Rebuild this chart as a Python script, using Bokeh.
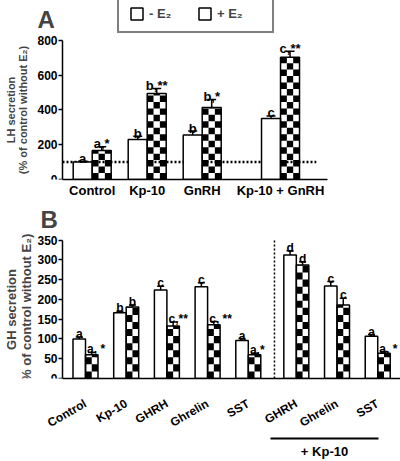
import math
from bokeh.plotting import figure
from bokeh.layouts import column
from bokeh.models import (FixedTicker, Label, Legend, LegendItem, Whisker, TeeHead,
                          ColumnDataSource, Range1d, LinearAxis)
from bokeh.core.properties import value
from bokeh.embed import file_html
from bokeh.resources import INLINE

FONT = "Liberation Sans"

# ---------------- data: panel A (LH) ----------------
a_groups = ["Control", "Kp-10", "GnRH", "Kp-10 + GnRH"]
a_minus = [100, 230, 255, 350]
a_minus_err = [5, 19, 23, 15]
a_plus = [166, 494, 414, 702]
a_plus_err = [22, 29, 46, 35]
a_minus_sig = ["a", "b", "b", "c"]
a_plus_sig = ["a,*", "b,**", "b,*", "c,**"]
a_yticks = [0, 200, 400, 600, 800]
a_ref_level = 100

# ---------------- data: panel B (GH) ----------------
b_groups = ["Control", "Kp-10", "GHRH", "Ghrelin", "SST", "GHRH", "Ghrelin", "SST"]
b_minus = [100, 166, 224, 232, 96, 312, 234, 107]
b_minus_err = [5, 4, 9, 10, 5, 11, 11, 4]
b_plus = [60, 181, 133, 136, 60, 287, 186, 64]
b_plus_err = [6, 5, 10, 8, 4, 8, 17, 4]
b_minus_sig = ["a", "b", "c", "c", "a", "d", "c", "a"]
b_plus_sig = ["a, *", "b", "c,**", "c, **", "a,*", "d", "c", "a, *"]
b_yticks = [0, 50, 100, 150, 200, 250, 300, 350]
b_kp_label = "+ Kp-10"
b_n_plain = 5

legend_labels = ["- E\u2082", "+ E\u2082"]

# ---------------- layout constants ----------------
W = 400
AXIS_PX = 62          # pixel position of the y axis inside each canvas


def checker_cells(lefts, values, bw, ncol, cell_h):
    L, R, B, T = [], [], [], []
    cw = bw / ncol
    for left, v in zip(lefts, values):
        nrow = int(math.ceil(v / cell_h))
        for r in range(nrow):
            for k in range(ncol):
                if (r + k) % 2 == 0:
                    L.append(left + k * cw)
                    R.append(left + (k + 1) * cw)
                    B.append(r * cell_h)
                    T.append(min((r + 1) * cell_h, v))
    return dict(left=L, right=R, bottom=B, top=T)


def style_axes(p, ylabel, ylabel_size, yticks, axis_x, x_end):
    for ax in (p.xaxis, p.yaxis):
        ax.axis_line_color = "black"
        ax.axis_line_width = 1.5
        ax.major_label_text_font = FONT
        ax.major_label_text_font_style = "bold"
        ax.major_label_text_font_size = "12px"
        ax.major_label_text_color = "black"
        ax.minor_tick_line_color = None
    p.yaxis.fixed_location = axis_x
    p.yaxis.ticker = FixedTicker(ticks=yticks)
    p.yaxis.bounds = (yticks[0], yticks[-1])
    p.yaxis.major_tick_out = 4
    p.yaxis.major_tick_in = 0
    p.yaxis.major_tick_line_width = 1.5
    p.yaxis.major_label_standoff = 1
    p.yaxis.axis_label = ylabel
    p.yaxis.axis_label_text_font = FONT
    p.yaxis.axis_label_text_font_style = "bold"
    p.yaxis.axis_label_text_font_size = ylabel_size
    p.yaxis.axis_label_text_line_height = 1.05
    p.xaxis.bounds = (axis_x, x_end)
    p.xaxis.major_tick_out = 0
    p.xaxis.major_tick_in = 0
    p.xgrid.grid_line_color = None
    p.ygrid.grid_line_color = None
    p.outline_line_color = None


def draw_bars(p, pos, minus, minus_err, plus, plus_err, bw, ncol, cell_px, ppu_y, cap):
    white_src = ColumnDataSource(dict(x=[c - bw / 2 for c in pos], top=minus))
    white_r = p.vbar(x="x", top="top", width=bw, bottom=0, source=white_src,
                     fill_color="white", line_color="black", line_width=1.5)
    cells = checker_cells(pos, plus, bw, ncol, cell_px / ppu_y)
    p.quad(source=ColumnDataSource(cells), left="left", right="right", bottom="bottom",
           top="top", fill_color="black", line_color=None)
    p.vbar(x=[c + bw / 2 for c in pos], top=plus, width=bw, bottom=0,
           fill_color=None, line_color="black", line_width=1.5)
    for xs, vals, errs in (([c - bw / 2 for c in pos], minus, minus_err),
                           ([c + bw / 2 for c in pos], plus, plus_err)):
        src = ColumnDataSource(dict(x=xs, lower=vals, upper=[v + e for v, e in zip(vals, errs)]))
        p.add_layout(Whisker(source=src, base="x", lower="lower", upper="upper",
                             upper_head=TeeHead(size=cap, line_width=1.5, line_color="black"),
                             lower_head=None, line_width=1.5, line_color="black"))
    return white_r


def sig_text(p, xs, ys, texts, align, size="12px"):
    p.text(x=xs, y=ys, text=texts, text_font=value(FONT), text_font_style="bold",
           text_font_size=size, text_align=align, text_baseline="alphabetic",
           text_color="black", y_offset=-3)


# ================= Panel A =================
A_H, A_BOTTOM = 200, 20
a_frame_h = A_H - A_BOTTOM
a_ppu_y = 140 / 800
a_ppu_x = 55.0
a_first = 0.54
a_gap = 0.424
a_pos = [i + (a_gap if i == len(a_groups) - 1 else 0) for i in range(len(a_groups))]
a_bw = 19 / a_ppu_x
a_axis_x = -a_first
a_axis_w = 265

pA = figure(width=W, height=A_H, output_backend="svg", toolbar_location=None,
            x_range=Range1d(a_axis_x - AXIS_PX / a_ppu_x, a_axis_x + (W - AXIS_PX) / a_ppu_x),
            y_range=Range1d(0, a_frame_h / a_ppu_y),
            min_border_left=0, min_border_right=0,
            min_border_top=0, min_border_bottom=A_BOTTOM)
style_axes(pA, "LH secretion\n(% of control without E\u2082)", "11px", a_yticks,
           a_axis_x, a_axis_x + a_axis_w / a_ppu_x)
pA.yaxis.axis_label_standoff = 5
pA.xaxis.ticker = FixedTicker(ticks=a_pos)
pA.xaxis.major_label_overrides = {p_: g for p_, g in zip(a_pos, a_groups)}
pA.xaxis.major_label_text_font_size = "13px"
pA.xaxis.major_label_standoff = 3

# dotted control level
pA.segment(x0=[a_axis_x], x1=[a_pos[-1] + 0.65], y0=[a_ref_level], y1=[a_ref_level],
           line_color="black", line_width=2.5, line_dash="2 2")

wA = draw_bars(pA, a_pos, a_minus, a_minus_err, a_plus, a_plus_err, a_bw, 3, 6.5, a_ppu_y, 9)
sig_text(pA, [c - a_bw / 2 for c in a_pos], [v + e for v, e in zip(a_minus, a_minus_err)],
         a_minus_sig, "center", "13px")
sig_text(pA, [c + a_bw / 2 for c in a_pos], [v + e for v, e in zip(a_plus, a_plus_err)],
         a_plus_sig, "center", "13px")

blackA = pA.scatter(x=[], y=[], marker="square", size=6, fill_color="black",
                    line_color="black", line_width=3)
legend = Legend(items=[LegendItem(label=legend_labels[0], renderers=[wA]),
                       LegendItem(label=legend_labels[1], renderers=[wA, blackA])],
                orientation="horizontal", location=(117, a_frame_h - 34),
                border_line_color="black", border_line_width=2,
                label_text_font=FONT, label_text_font_style="bold", label_text_font_size="13px",
                glyph_width=15, glyph_height=15, label_standoff=5, spacing=3,
                padding=10, label_width=45, margin=0)
pA.add_layout(legend)
pA.add_layout(Label(x=37, y=a_frame_h - 20, x_units="screen", y_units="screen", text="A",
                    text_font=FONT, text_font_style="bold", text_font_size="24px",
                    text_baseline="alphabetic"))

# ================= Panel B =================
B_H, B_BOTTOM = 261, 72
b_frame_h = B_H - B_BOTTOM
b_ppu_y = 147 / 350
b_ppu_x = 40.7
b_first = 0.565
b_gap = 0.18
b_pos = [i + (b_gap if i >= b_n_plain else 0) for i in range(len(b_groups))]
b_bw = 0.307
b_axis_x = -b_first
b_x_end = b_axis_x + (W - AXIS_PX) / b_ppu_x

pB = figure(width=W, height=B_H, output_backend="svg", toolbar_location=None,
            x_range=Range1d(b_axis_x - AXIS_PX / b_ppu_x, b_x_end),
            y_range=Range1d(0, b_frame_h / b_ppu_y),
            min_border_left=0, min_border_right=0,
            min_border_top=0, min_border_bottom=B_BOTTOM)
style_axes(pB, "GH secretion\n(% of control without E\u2082)", "13px", b_yticks,
           b_axis_x, b_x_end)
pB.yaxis.axis_label_standoff = 0
pB.xaxis.ticker = FixedTicker(ticks=b_pos)
pB.xaxis.major_label_overrides = {p_: g for p_, g in zip(b_pos, b_groups)}
pB.xaxis.major_label_orientation = math.pi / 6
pB.xaxis.major_label_standoff = 24

div_x = b_pos[b_n_plain - 1] + (1 + b_gap) * 0.545
pB.segment(x0=[div_x], x1=[div_x], y0=[0], y1=[b_yticks[-1]], line_color="black",
           line_width=1.5, line_dash="2 2")

draw_bars(pB, b_pos, b_minus, b_minus_err, b_plus, b_plus_err, b_bw, 2, 7.5, b_ppu_y, 7)
sig_text(pB, [c - b_bw / 2 for c in b_pos], [v + e for v, e in zip(b_minus, b_minus_err)],
         b_minus_sig, "center")
single = [i for i, s in enumerate(b_plus_sig) if len(s) == 1]
multi = [i for i, s in enumerate(b_plus_sig) if len(s) > 1]
sig_text(pB, [b_pos[i] + b_bw / 2 for i in single],
         [b_plus[i] + b_plus_err[i] for i in single], [b_plus_sig[i] for i in single], "center")
sig_text(pB, [b_pos[i] + 0.04 for i in multi],
         [b_plus[i] + b_plus_err[i] for i in multi], [b_plus_sig[i] for i in multi], "left")

# "+ Kp-10" bracket as an extra bottom axis
xs_line = b_pos[b_n_plain] - 0.635
xe_line = b_pos[-1] + 0.02
mid = (xs_line + xe_line) / 2
kp_axis = LinearAxis(ticker=FixedTicker(ticks=[mid]), bounds=(xs_line, xe_line),
                     major_label_overrides={mid: b_kp_label},
                     axis_line_color="black", axis_line_width=2,
                     major_tick_out=0, major_tick_in=0, minor_tick_out=0, minor_tick_in=0,
                     major_label_standoff=5, major_label_text_font=FONT,
                     major_label_text_font_style="bold", major_label_text_font_size="13px",
                     major_label_text_color="black")
pB.add_layout(kp_axis, "below")

pB.add_layout(Label(x=40, y=b_frame_h - 30, x_units="screen", y_units="screen", text="B",
                    text_font=FONT, text_font_style="bold", text_font_size="24px",
                    text_baseline="alphabetic"))

layout = column(pA, pB)
open("out.html", "w").write(file_html(layout, INLINE))
